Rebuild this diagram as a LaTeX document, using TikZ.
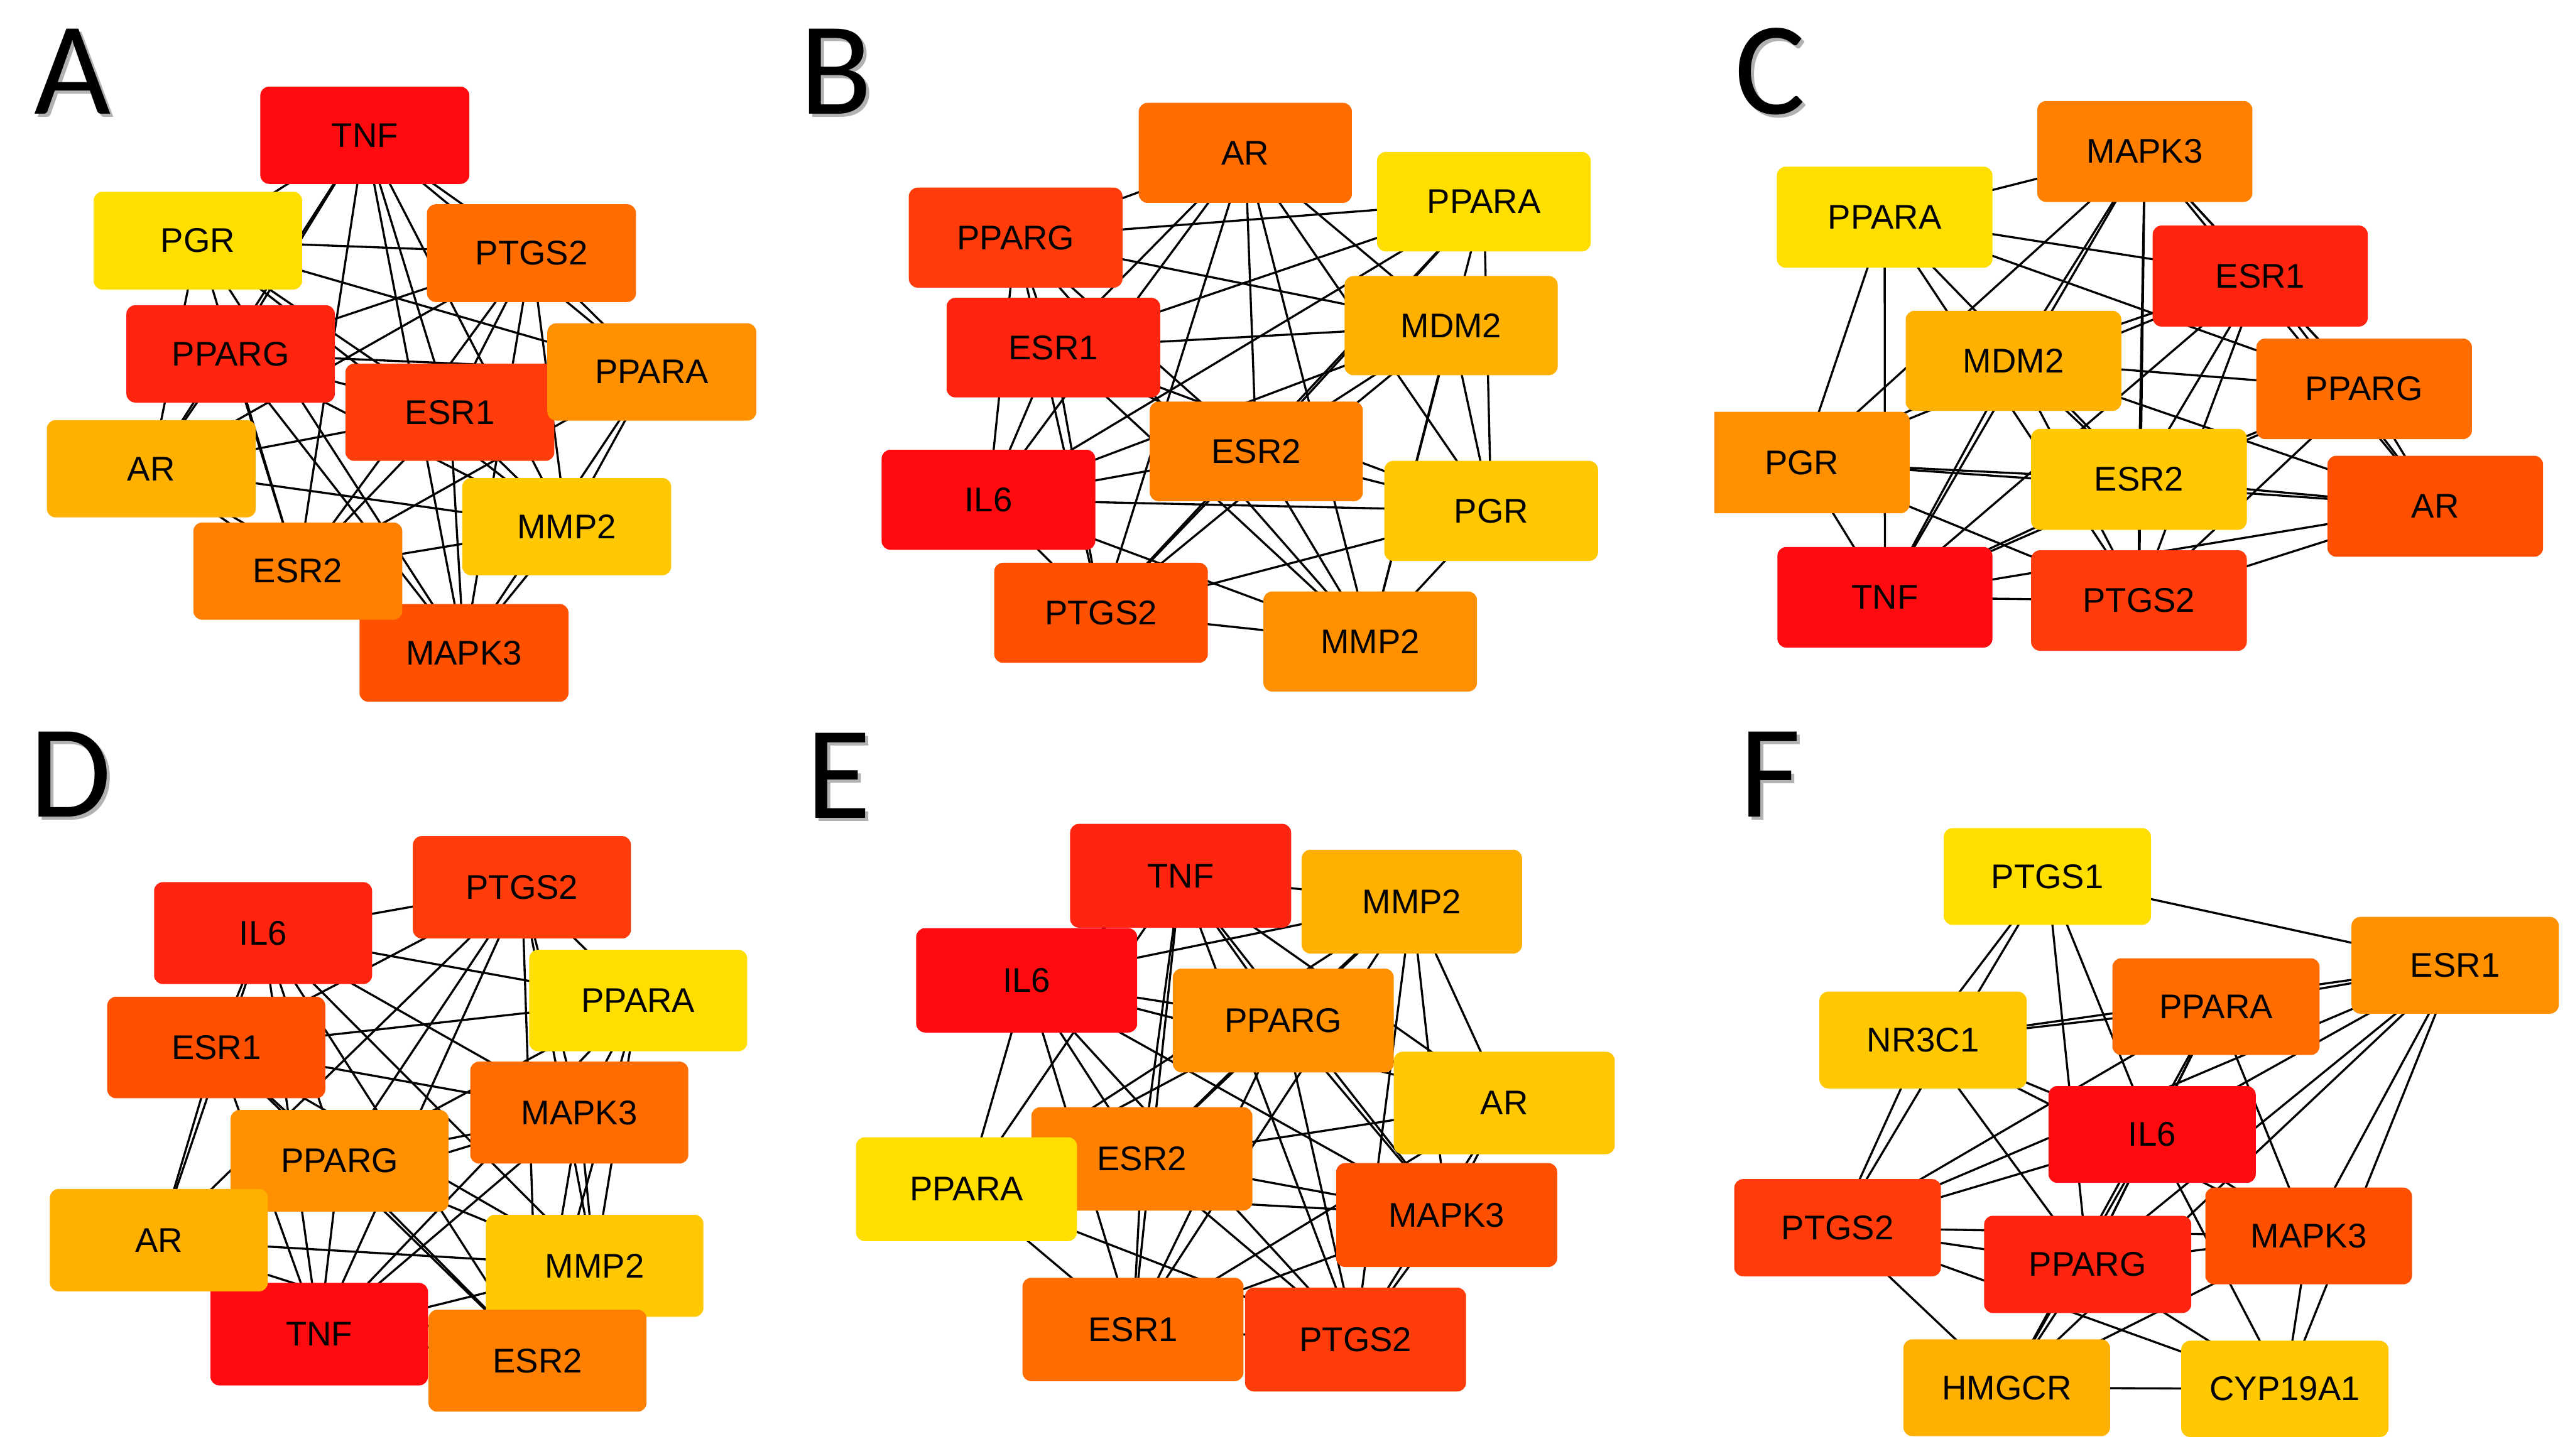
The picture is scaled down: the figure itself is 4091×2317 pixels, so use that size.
\documentclass[tikz,border=0pt]{standalone}
\usepackage{fontspec}
\setmainfont{Liberation Sans}
\newfontfamily\panelfont{Carlito}
\pgfdeclarelayer{edgelayer}
\pgfsetlayers{edgelayer,main}
\definecolor{r1}{RGB}{255,10,15}
\definecolor{r2}{RGB}{255,36,15}
\definecolor{r3}{RGB}{255,60,10}
\definecolor{r4}{RGB}{255,80,0}
\definecolor{r5}{RGB}{255,109,0}
\definecolor{r6}{RGB}{255,128,0}
\definecolor{r7}{RGB}{255,145,0}
\definecolor{r8}{RGB}{255,176,0}
\definecolor{r9}{RGB}{255,200,0}
\definecolor{r10}{RGB}{255,223,0}
\tikzset{
  gbox/.style={rectangle, rounded corners=0.14cm, inner sep=0pt, outer sep=0pt,
    font=\fontsize{15.5}{18}\selectfont, text=black},
  edge/.style={black, line width=0.95pt},
  plabel/.style={font=\panelfont\fontsize{60}{60}\selectfont, anchor=base west, inner sep=0pt},
}
% #1 name, #2 #3 top-left, #4 #5 bottom-right (panel units), #6 colour, #7 text
\newcommand\genebox[7]{%
  \pgfmathsetmacro\gw{(#4-#2)*\sx}%
  \pgfmathsetmacro\gh{(#5-#3)*\sy}%
  \node[gbox, fill=#6, minimum width=\gw cm, minimum height=\gh cm]
    (#1) at ({(#2+#4)/2},{(#3+#5)/2}) {#7};}
\newcommand\panellabel[4]{%
  \node[plabel, text=black!30] (#1s) at (#2+5,#3+5) {#4};
  \node[plabel, text=black] (#1) at (#2,#3) {#4};}
\begin{document}
\begin{tikzpicture}[x=0.01cm, y=-0.01cm]
\useasboundingbox (0,0) rectangle (4091,2317);

% panel labels
\panellabel{labA}{54}{181}{A}
\panellabel{labB}{1273}{181}{B}
\panellabel{labC}{2761}{181}{C}
\panellabel{labD}{47}{1300}{D}
\panellabel{labE}{1283}{1302}{E}
\panellabel{labF}{2769}{1300}{F}

% ---------------- A ----------------
\begin{scope}[x=0.008013cm, y=-0.007372cm]
\def\sx{0.008013}\def\sy{0.007372}
\genebox{A-TNF}{517}{187}{932}{397}{r1}{TNF}
\genebox{A-PGR}{186}{414}{600}{625}{r10}{PGR}
\genebox{A-PTGS2}{848}{441}{1263}{652}{r5}{PTGS2}
\genebox{A-PPARG}{251}{659}{665}{869}{r2}{PPARG}
\genebox{A-ESR1}{686}{785}{1101}{995}{r3}{ESR1}
\genebox{A-PPARA}{1087}{698}{1502}{908}{r7}{PPARA}
\genebox{A-AR}{93}{907}{508}{1117}{r8}{AR}
\genebox{A-MMP2}{918}{1032}{1333}{1242}{r9}{MMP2}
\genebox{A-MAPK3}{714}{1304}{1129}{1515}{r4}{MAPK3}
\genebox{A-ESR2}{384}{1128}{799}{1338}{r6}{ESR2}
\end{scope}

% ---------------- B ----------------
\begin{scope}[shift={(1300,0)}, x=0.008333cm, y=-0.007372cm]
\def\sx{0.008333}\def\sy{0.007372}
\genebox{B-AR}{615}{222}{1022}{438}{r5}{AR}
\genebox{B-PPARA}{1070}{328}{1478}{543}{r10}{PPARA}
\genebox{B-PPARG}{176}{405}{584}{621}{r3}{PPARG}
\genebox{B-MDM2}{1008}{596}{1415}{810}{r8}{MDM2}
\genebox{B-ESR1}{248}{643}{656}{858}{r2}{ESR1}
\genebox{B-ESR2}{636}{867}{1043}{1082}{r6}{ESR2}
\genebox{B-IL6}{124}{971}{532}{1187}{r1}{IL6}
\genebox{B-PGR}{1084}{995}{1492}{1211}{r9}{PGR}
\genebox{B-PTGS2}{339}{1215}{747}{1431}{r4}{PTGS2}
\genebox{B-MMP2}{853}{1277}{1261}{1493}{r7}{MMP2}
\end{scope}

% ---------------- C ----------------
\begin{scope}[shift={(2700,0)}, x=0.008917cm, y=-0.007372cm]
\def\sx{0.008917}\def\sy{0.007372}
\genebox{C-MAPK3}{609}{218}{993}{436}{r6}{MAPK3}
\genebox{C-PPARA}{144}{360}{529}{578}{r10}{PPARA}
\genebox{C-ESR1}{815}{487}{1199}{705}{r2}{ESR1}
\genebox{C-MDM2}{374}{671}{759}{887}{r8}{MDM2}
\genebox{C-PPARG}{1000}{731}{1385}{948}{r5}{PPARG}
\genebox{C-PGR}{-4}{889}{381}{1108}{r7}{PGR}
\fill[white] (-60,870) rectangle (32,1125);
\genebox{C-ESR2}{598}{926}{983}{1144}{r9}{ESR2}
\genebox{C-AR}{1127}{984}{1512}{1202}{r4}{AR}
\genebox{C-TNF}{145}{1181}{529}{1398}{r1}{TNF}
\genebox{C-PTGS2}{598}{1188}{983}{1405}{r3}{PTGS2}
\end{scope}

% ---------------- D ----------------
\begin{scope}[shift={(0,1150)}, x=0.008013cm, y=-0.007481cm]
\def\sx{0.008013}\def\sy{0.007481}
\genebox{D-PTGS2}{820}{242}{1253}{460}{r3}{PTGS2}
\genebox{D-IL6}{306}{340}{739}{557}{r2}{IL6}
\genebox{D-PPARA}{1051}{484}{1484}{700}{r10}{PPARA}
\genebox{D-ESR1}{213}{584}{646}{800}{r4}{ESR1}
\genebox{D-MAPK3}{934}{722}{1367}{939}{r5}{MAPK3}
\genebox{D-PPARG}{458}{825}{891}{1041}{r7}{PPARG}
\genebox{D-TNF}{418}{1193}{850}{1411}{r1}{TNF}
\genebox{D-AR}{99}{993}{532}{1211}{r8}{AR}
\genebox{D-MMP2}{965}{1048}{1397}{1265}{r9}{MMP2}
\genebox{D-ESR2}{851}{1250}{1284}{1467}{r6}{ESR2}
\end{scope}

% ---------------- E ----------------
\begin{scope}[shift={(1300,1150)}, x=0.008333cm, y=-0.007481cm]
\def\sx{0.008333}\def\sy{0.007481}
\genebox{E-TNF}{484}{216}{906}{437}{r2}{TNF}
\genebox{E-MMP2}{926}{271}{1347}{492}{r8}{MMP2}
\genebox{E-IL6}{190}{438}{612}{660}{r1}{IL6}
\genebox{E-AR}{1102}{701}{1524}{919}{r9}{AR}
\genebox{E-PPARG}{680}{524}{1102}{745}{r7}{PPARG}
\genebox{E-ESR2}{410}{819}{832}{1039}{r6}{ESR2}
\genebox{E-PPARA}{75}{883}{497}{1104}{r10}{PPARA}
\genebox{E-MAPK3}{992}{938}{1414}{1159}{r4}{MAPK3}
\genebox{E-ESR1}{393}{1182}{815}{1402}{r5}{ESR1}
\genebox{E-PTGS2}{818}{1203}{1240}{1424}{r3}{PTGS2}
\end{scope}

% ---------------- F ----------------
\begin{scope}[shift={(2700,1150)}, x=0.008917cm, y=-0.007481cm]
\def\sx{0.008917}\def\sy{0.007481}
\genebox{F-PTGS1}{442}{225}{812}{431}{r10}{PTGS1}
\genebox{F-ESR1}{1170}{414}{1540}{620}{r7}{ESR1}
\genebox{F-PPARA}{743}{502}{1113}{708}{r5}{PPARA}
\genebox{F-NR3C1}{220}{573}{590}{779}{r9}{NR3C1}
\genebox{F-IL6}{629}{774}{999}{980}{r1}{IL6}
\genebox{F-PTGS2}{68}{972}{437}{1179}{r3}{PTGS2}
\genebox{F-PPARG}{514}{1050}{884}{1257}{r2}{PPARG}
\genebox{F-MAPK3}{909}{990}{1278}{1196}{r4}{MAPK3}
\genebox{F-HMGCR}{370}{1313}{739}{1519}{r8}{HMGCR}
\genebox{F-CYP19A1}{866}{1316}{1236}{1521}{r9}{CYP19A1}
\end{scope}

% ---------------- edges (behind the boxes) ----------------
\begin{pgfonlayer}{edgelayer}
\fill[white] (0,0) rectangle (4091,2317);
\foreach \a/\b in {TNF/PGR,TNF/PTGS2,TNF/PPARG,TNF/PPARA,TNF/ESR1,TNF/AR,TNF/MMP2,TNF/ESR2,TNF/MAPK3,
  PGR/PTGS2,PGR/PPARA,PGR/ESR1,PGR/AR,PGR/MMP2,PGR/ESR2,PGR/MAPK3,
  PTGS2/PPARG,PTGS2/PPARA,PTGS2/ESR1,PTGS2/AR,PTGS2/MMP2,PTGS2/ESR2,PTGS2/MAPK3,
  PPARG/PPARA,PPARG/ESR1,PPARG/AR,PPARG/MMP2,PPARG/ESR2,PPARG/MAPK3,
  PPARA/ESR1,PPARA/MMP2,PPARA/ESR2,PPARA/MAPK3,
  ESR1/AR,ESR1/MMP2,ESR1/ESR2,ESR1/MAPK3,
  AR/MMP2,AR/ESR2,AR/MAPK3,MMP2/ESR2,MMP2/MAPK3,ESR2/MAPK3}
  {\draw[edge] (A-\a.center) -- (A-\b.center);}
\foreach \a/\b in {AR/PPARG,AR/MDM2,AR/ESR1,AR/ESR2,AR/IL6,AR/PGR,AR/PTGS2,AR/MMP2,
  PPARA/PPARG,PPARA/ESR1,PPARA/ESR2,PPARA/IL6,PPARA/PGR,PPARA/PTGS2,PPARA/MMP2,
  PPARG/MDM2,PPARG/ESR1,PPARG/ESR2,PPARG/IL6,PPARG/PTGS2,PPARG/MMP2,
  MDM2/ESR1,MDM2/ESR2,MDM2/IL6,MDM2/PGR,MDM2/PTGS2,MDM2/MMP2,
  ESR1/ESR2,ESR1/IL6,ESR1/PGR,ESR1/PTGS2,ESR1/MMP2,
  ESR2/IL6,ESR2/PGR,ESR2/PTGS2,ESR2/MMP2,
  IL6/PGR,IL6/PTGS2,IL6/MMP2,PGR/PTGS2,PGR/MMP2,PTGS2/MMP2}
  {\draw[edge] (B-\a.center) -- (B-\b.center);}
\foreach \a/\b in {MAPK3/PPARA,MAPK3/ESR1,MAPK3/MDM2,MAPK3/PPARG,MAPK3/PGR,MAPK3/ESR2,MAPK3/AR,MAPK3/TNF,MAPK3/PTGS2,
  PPARA/ESR1,PPARA/PPARG,PPARA/PGR,PPARA/ESR2,PPARA/TNF,PPARA/PTGS2,
  ESR1/MDM2,ESR1/PPARG,ESR1/PGR,ESR1/ESR2,ESR1/AR,ESR1/TNF,ESR1/PTGS2,
  MDM2/PPARG,MDM2/PGR,MDM2/ESR2,MDM2/AR,MDM2/TNF,MDM2/PTGS2,
  PPARG/ESR2,PPARG/AR,PPARG/TNF,PPARG/PTGS2,
  PGR/ESR2,PGR/AR,PGR/TNF,PGR/PTGS2,
  ESR2/AR,ESR2/TNF,ESR2/PTGS2,AR/TNF,AR/PTGS2,TNF/PTGS2}
  {\draw[edge] (C-\a.center) -- (C-\b.center);}
\foreach \a/\b in {PTGS2/IL6,PTGS2/PPARA,PTGS2/ESR1,PTGS2/MAPK3,PTGS2/PPARG,PTGS2/AR,PTGS2/MMP2,PTGS2/TNF,PTGS2/ESR2,
  IL6/PPARA,IL6/ESR1,IL6/MAPK3,IL6/PPARG,IL6/AR,IL6/MMP2,IL6/TNF,IL6/ESR2,
  PPARA/ESR1,PPARA/MAPK3,PPARA/PPARG,PPARA/MMP2,PPARA/TNF,PPARA/ESR2,
  ESR1/MAPK3,ESR1/PPARG,ESR1/AR,ESR1/MMP2,ESR1/TNF,ESR1/ESR2,
  MAPK3/PPARG,MAPK3/AR,MAPK3/MMP2,MAPK3/TNF,MAPK3/ESR2,
  PPARG/AR,PPARG/MMP2,PPARG/TNF,PPARG/ESR2,
  AR/MMP2,AR/TNF,AR/ESR2,MMP2/TNF,MMP2/ESR2,TNF/ESR2}
  {\draw[edge] (D-\a.center) -- (D-\b.center);}
\foreach \a/\b in {TNF/MMP2,TNF/IL6,TNF/PPARG,TNF/AR,TNF/ESR2,TNF/PPARA,TNF/MAPK3,TNF/ESR1,TNF/PTGS2,
  MMP2/IL6,MMP2/PPARG,MMP2/AR,MMP2/ESR2,MMP2/PPARA,MMP2/MAPK3,MMP2/ESR1,MMP2/PTGS2,
  IL6/PPARG,IL6/AR,IL6/ESR2,IL6/PPARA,IL6/MAPK3,IL6/ESR1,IL6/PTGS2,
  PPARG/AR,PPARG/ESR2,PPARG/PPARA,PPARG/MAPK3,PPARG/ESR1,PPARG/PTGS2,
  AR/ESR2,AR/MAPK3,AR/ESR1,AR/PTGS2,
  ESR2/PPARA,ESR2/MAPK3,ESR2/ESR1,ESR2/PTGS2,
  PPARA/MAPK3,PPARA/ESR1,PPARA/PTGS2,MAPK3/ESR1,MAPK3/PTGS2,ESR1/PTGS2}
  {\draw[edge] (E-\a.center) -- (E-\b.center);}
\foreach \a/\b in {PTGS1/ESR1,PTGS1/NR3C1,PTGS1/PTGS2,PTGS1/PPARG,PTGS1/IL6,
  ESR1/PPARA,ESR1/NR3C1,ESR1/PTGS2,ESR1/IL6,ESR1/MAPK3,ESR1/CYP19A1,ESR1/PPARG,ESR1/HMGCR,
  PPARA/NR3C1,PPARA/PTGS2,PPARA/IL6,PPARA/PPARG,PPARA/MAPK3,PPARA/HMGCR,
  NR3C1/IL6,NR3C1/MAPK3,NR3C1/PTGS2,NR3C1/PPARG,
  IL6/PTGS2,IL6/PPARG,IL6/MAPK3,IL6/CYP19A1,IL6/HMGCR,
  PTGS2/PPARG,PTGS2/MAPK3,PTGS2/CYP19A1,PTGS2/HMGCR,
  PPARG/MAPK3,PPARG/HMGCR,PPARG/CYP19A1,
  MAPK3/CYP19A1,MAPK3/HMGCR,HMGCR/CYP19A1}
  {\draw[edge] (F-\a.center) -- (F-\b.center);}
\end{pgfonlayer}
\end{tikzpicture}
\end{document}
